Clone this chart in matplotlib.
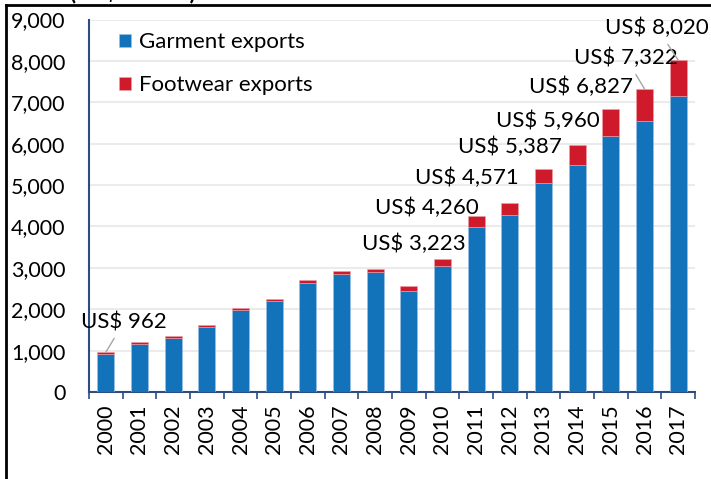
import matplotlib.pyplot as plt
from matplotlib.lines import Line2D
from matplotlib.ticker import FuncFormatter, MultipleLocator

# data (US$ million)
years = [str(y) for y in range(2000, 2018)]
garment = [920, 1165, 1310, 1570, 1970, 2200, 2625, 2850, 2900, 2450,
           3045, 3995, 4270, 5040, 5490, 6175, 6550, 7160]
footwear = [42, 35, 45, 45, 50, 50, 75, 85, 80, 110,
            178, 265, 301, 347, 470, 652, 772, 860]

# labelled totals
label_idx = [0, 10, 11, 12, 13, 14, 15, 16, 17]
label_val = [962, 3223, 4260, 4571, 5387, 5960, 6827, 7322, 8020]
# where the labels sit (data coords)
label_x = [0.54, 9.15, 9.54, 10.73, 12.0, 13.13, 14.11, 15.45, 16.37]
label_y = [1691, 3576, 4446, 5170, 5919, 6548, 7369, 8070, 8795]
leader = [True, False, False, False, False, False, False, True, True]

plt.rcParams['font.family'] = ['Lato', 'DejaVu Sans']
plt.rcParams['font.size'] = 16

blue = '#1273BB'
red = '#CE1A2B'
axis_col = '#2E4C82'

fig = plt.figure(figsize=(7.11, 4.79), dpi=100)
ax = fig.add_axes([89 / 711, 87 / 479, 606 / 711, 372.5 / 479])

x = list(range(len(years)))
ax.bar(x, garment, width=0.5, color=blue, edgecolor='#9CC3E6', linewidth=0.4,
       label='Garment exports', zorder=3)
ax.bar(x, footwear, width=0.5, bottom=garment, color=red, edgecolor='#F0A0A8',
       linewidth=0.4, label='Footwear exports', zorder=3)

ax.set_xlim(-0.5, len(years) - 0.5)
ax.set_ylim(0, 9000)
ax.yaxis.set_major_locator(MultipleLocator(1000))
ax.yaxis.set_major_formatter(FuncFormatter(lambda v, p: f'{int(v):,}'))
ax.grid(axis='y', color='#EBEBEB', linewidth=1.5, zorder=0)

ax.set_xticks(x)
ax.set_xticklabels(years, rotation=90)
ax.set_xticks([i - 0.5 for i in range(len(years) + 1)], minor=True)
ax.tick_params(axis='x', which='major', length=0, pad=9, labelsize=15.5)
ax.tick_params(axis='x', which='minor', length=5, width=1.2, color=axis_col)
ax.tick_params(axis='y', length=0, pad=17, labelsize=15.5)

for s in ['top', 'right']:
    ax.spines[s].set_visible(False)
for s in ['left', 'bottom']:
    ax.spines[s].set_color(axis_col)
    ax.spines[s].set_linewidth(1.5)

for i, v, tx, ty, ld in zip(label_idx, label_val, label_x, label_y, leader):
    top = garment[i] + footwear[i]
    if ld:
        ax.annotate(f'US$ {v:,}', xy=(i, top), xytext=(tx, ty),
                    ha='center', va='center',
                    arrowprops=dict(arrowstyle='-', color='#A6A6A6', lw=1,
                                    shrinkA=3, shrinkB=0))
    else:
        ax.text(tx, ty, f'US$ {v:,}', ha='center', va='center')

ax.legend(loc='upper left', bbox_to_anchor=(0.035, 0.99), frameon=False,
          handlelength=0.55, handleheight=0.55, handletextpad=0.35,
          labelspacing=1.05, borderaxespad=0)

# outer frame and the cut-off heading
fig.add_artist(Line2D([6 / 711, 6 / 711], [0, 1 - 5 / 479], color='black', lw=2))
fig.add_artist(Line2D([6 / 711, 1], [1 - 5 / 479, 1 - 5 / 479], color='black', lw=2))
fig.text(70 / 711, 1 + 1 / 479, '(US$ million)', ha='left', va='baseline',
         fontweight='bold')

fig.savefig('out.png', dpi=100)
